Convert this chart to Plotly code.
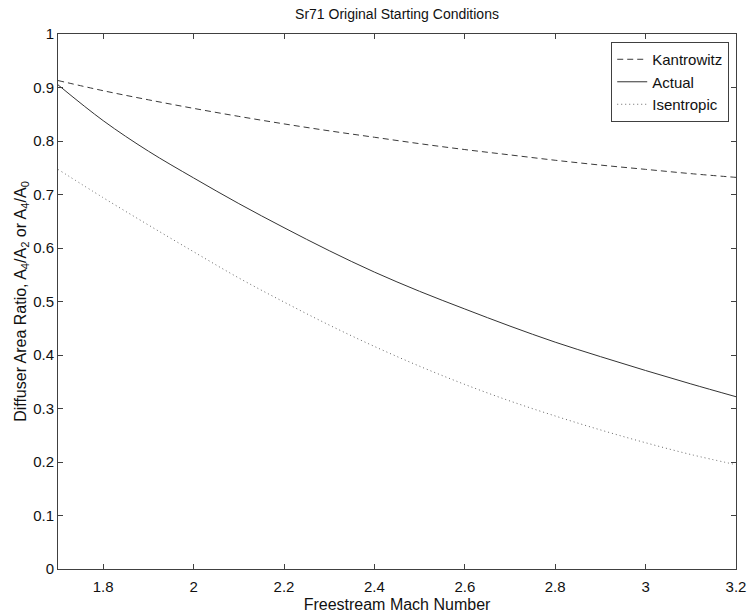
import plotly.graph_objects as go

mach = [1.7, 1.8, 1.9, 2.0, 2.1, 2.2, 2.3, 2.4, 2.5, 2.6, 2.7, 2.8, 2.9, 3.0, 3.1, 3.2]
kantrowitz = [0.913, 0.894, 0.877, 0.861, 0.846, 0.832, 0.819, 0.807, 0.795, 0.784, 0.774, 0.764, 0.755, 0.747, 0.739, 0.732]
actual = [0.905, 0.838, 0.781, 0.731, 0.683, 0.638, 0.595, 0.555, 0.519, 0.486, 0.454, 0.424, 0.397, 0.371, 0.346, 0.322]
isentropic = [0.747, 0.694, 0.643, 0.593, 0.544, 0.499, 0.456, 0.416, 0.379, 0.345, 0.314, 0.286, 0.260, 0.236, 0.214, 0.195]

x_ticks = [1.8, 2.0, 2.2, 2.4, 2.6, 2.8, 3.0, 3.2]
x_tick_text = ["1.8", "2", "2.2", "2.4", "2.6", "2.8", "3", "3.2"]
y_ticks = [0, 0.1, 0.2, 0.3, 0.4, 0.5, 0.6, 0.7, 0.8, 0.9, 1.0]
y_tick_text = ["0", "0.1", "0.2", "0.3", "0.4", "0.5", "0.6", "0.7", "0.8", "0.9", "1"]

FONT = "Arial, Liberation Sans, sans-serif"

fig = go.Figure()
fig.add_trace(go.Scatter(x=mach, y=kantrowitz, mode="lines", name="Kantrowitz",
                         line=dict(color="#3a3a3a", width=1, dash="6px,4px", shape="spline")))
fig.add_trace(go.Scatter(x=mach, y=actual, mode="lines", name="Actual",
                         line=dict(color="#333333", width=1, shape="spline")))
fig.add_trace(go.Scatter(x=mach, y=isentropic, mode="lines", name="Isentropic",
                         line=dict(color="#666666", width=1, dash="1px,3px", shape="spline")))

axis_common = dict(showgrid=False, zeroline=False, showline=True, linecolor="#404040",
                   linewidth=1, mirror="ticks", ticks="inside", ticklen=5, automargin=False,
                   tickcolor="#404040", tickfont=dict(family=FONT, size=15, color="#111"))

fig.update_layout(
    width=749, height=614,
    margin=dict(l=58, r=13, t=34, b=45),
    paper_bgcolor="white", plot_bgcolor="white",
    font=dict(family=FONT, size=15, color="#111"),
    title=dict(text="Sr71 Original Starting Conditions", x=(58 + 736) / 2 / 749, xanchor="center",
               y=1 - 14 / 614, yanchor="middle", font=dict(size=14)),
    xaxis=dict(range=[1.7, 3.2], tickvals=x_ticks, ticktext=x_tick_text, ticklabelstandoff=4,
               title=dict(text="Freestream Mach Number", standoff=4, font=dict(size=16)), **axis_common),
    yaxis=dict(range=[0, 1], tickvals=y_ticks, ticktext=y_tick_text,
               title=dict(text="Diffuser Area Ratio, A<sub>4</sub>/A<sub>2</sub> or A<sub>4</sub>/A<sub>0</sub>",
                          standoff=2, font=dict(size=16)), **axis_common),
    legend=dict(x=0.99, y=0.985, xanchor="right", yanchor="top", bgcolor="white",
                bordercolor="#404040", borderwidth=1, font=dict(size=15),
                tracegroupgap=0, itemwidth=30),
    showlegend=True,
)

fig.write_html("out.html")
